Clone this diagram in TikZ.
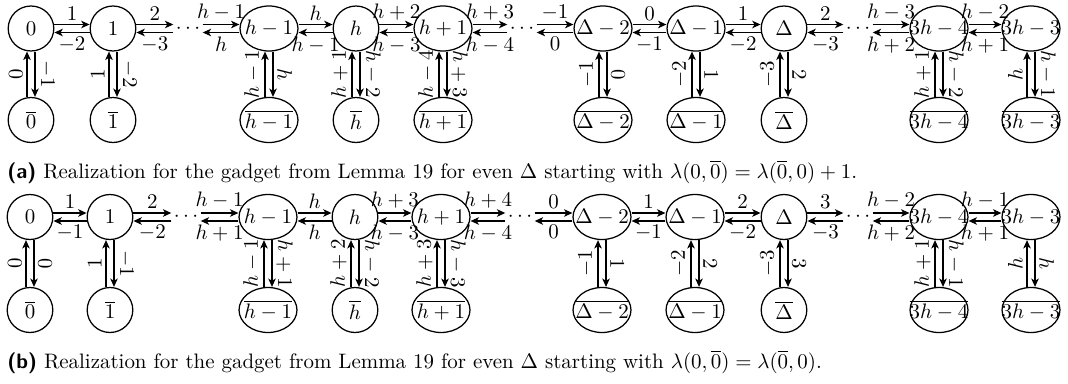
\documentclass[tikz,border=0pt]{standalone}
\usetikzlibrary{shapes.geometric,arrows.meta,calc}
\newcommand\ndtxt[1]{\makebox[0pt]{$#1$}}
\tikzset{
  gnode/.style={ellipse, draw, semithick, inner sep=0pt, minimum width=21.8pt, minimum height=21.5pt},
  wnode/.style={gnode, minimum width=27.7pt},
  dotsnode/.style={inner sep=1pt},
  arr/.style={semithick, -{Stealth[length=4pt,width=3.6pt,inset=1.1pt]}},
  lab/.style={inner sep=1.8pt},
  capt/.style={anchor=base west, inner sep=0pt},
}
\newcommand\hpair[4]{%
  \draw[arr] ($(#1.east)+(0,-4)$) -- node[above,lab]{$#3$} ($(#2.west)+(0,-4)$);
  \draw[arr] ($(#2.west)+(0,4)$) -- node[below,lab]{$#4$} ($(#1.east)+(0,4)$);}
\newcommand\vpair[4]{%
  \draw[arr] ($(#2.north)+(-4,0)$) -- node[sloped,above,lab]{$#3$} ($(#1.south)+(-4,0)$);
  \draw[arr] ($(#1.south)+(4,0)$) -- node[sloped,above,lab]{$#4$} ($(#2.north)+(4,0)$);}
\begin{document}
\begin{tikzpicture}[x=0.478pt,y=-0.478pt]
\useasboundingbox (0,0) rectangle (1068,383);
% ---------- (a) ----------
\node[gnode] (a0) at (31,28.5) {\ndtxt{0}};
\node[gnode] (a1) at (113,28.5) {\ndtxt{1}};
\node[dotsnode] (ad1) at (188,28.5) {$\cdots$};
\node[wnode] (a2) at (269,28.5) {\ndtxt{h-1}};
\node[gnode] (a3) at (356,28.5) {\ndtxt{h}};
\node[wnode] (a4) at (443,28.5) {\ndtxt{h+1}};
\node[dotsnode] (ad2) at (522,28.5) {$\cdots$};
\node[wnode] (a5) at (603,28.5) {\ndtxt{\Delta-2}};
\node[wnode] (a6) at (696,28.5) {\ndtxt{\Delta-1}};
\node[gnode] (a7) at (784,28.5) {\ndtxt{\Delta}};
\node[dotsnode] (ad3) at (858,28.5) {$\cdots$};
\node[wnode] (a8) at (939,28.5) {\ndtxt{3h-4}};
\node[wnode] (a9) at (1031,28.5) {\ndtxt{3h-3}};
\node[gnode] (b0) at (31,120) {\ndtxt{\overline{0}}};
\node[gnode] (b1) at (113,120) {\ndtxt{\overline{1}}};
\node[wnode] (b2) at (269,120) {\ndtxt{\overline{h-1}}};
\node[gnode] (b3) at (356,120) {\ndtxt{\overline{h}}};
\node[wnode] (b4) at (443,120) {\ndtxt{\overline{h+1}}};
\node[wnode] (b5) at (603,120) {\ndtxt{\overline{\Delta-2}}};
\node[wnode] (b6) at (696,120) {\ndtxt{\overline{\Delta-1}}};
\node[gnode] (b7) at (784,120) {\ndtxt{\overline{\Delta}}};
\node[wnode] (b8) at (939,120) {\ndtxt{\overline{3h-4}}};
\node[wnode] (b9) at (1031,120) {\ndtxt{\overline{3h-3}}};
\hpair{a0}{a1}{1}{-2}
\hpair{a1}{ad1}{2}{-3}
\hpair{ad1}{a2}{h-1}{h}
\hpair{a2}{a3}{h}{h-1}
\hpair{a3}{a4}{h+2}{h-3}
\hpair{a4}{ad2}{h+3}{h-4}
\hpair{ad2}{a5}{-1}{0}
\hpair{a5}{a6}{0}{-1}
\hpair{a6}{a7}{1}{-2}
\hpair{a7}{ad3}{2}{-3}
\hpair{ad3}{a8}{h-3}{h+2}
\hpair{a8}{a9}{h-2}{h+1}
\vpair{a0}{b0}{0}{-1}
\vpair{a1}{b1}{1}{-2}
\vpair{a2}{b2}{h-1}{h}
\vpair{a3}{b3}{h+1}{h-2}
\vpair{a4}{b4}{h-4}{h+3}
\vpair{a5}{b5}{-1}{0}
\vpair{a6}{b6}{-2}{1}
\vpair{a7}{b7}{-3}{2}
\vpair{a8}{b8}{h+1}{h-2}
\vpair{a9}{b9}{h}{h-1}
\node[capt] (capa) at (7,178) {\textsf{\bfseries (a)} Realization for the gadget from Lemma 19 for even $\Delta$ starting with $\lambda(0,\overline{0})=\lambda(\overline{0},0)+1$.};
% ---------- (b) ----------
\node[gnode] (c0) at (30,217) {\ndtxt{0}};
\node[gnode] (c1) at (110,217) {\ndtxt{1}};
\node[dotsnode] (cd1) at (186,217) {$\cdots$};
\node[wnode] (c2) at (268,217) {\ndtxt{h-1}};
\node[gnode] (c3) at (355,217) {\ndtxt{h}};
\node[wnode] (c4) at (441,217) {\ndtxt{h+1}};
\node[dotsnode] (cd2) at (520,217) {$\cdots$};
\node[wnode] (c5) at (602,217) {\ndtxt{\Delta-2}};
\node[wnode] (c6) at (695,217) {\ndtxt{\Delta-1}};
\node[gnode] (c7) at (784,217) {\ndtxt{\Delta}};
\node[dotsnode] (cd3) at (858,217) {$\cdots$};
\node[wnode] (c8) at (939,217) {\ndtxt{3h-4}};
\node[wnode] (c9) at (1031,217) {\ndtxt{3h-3}};
\node[gnode] (e0) at (30,310) {\ndtxt{\overline{0}}};
\node[gnode] (e1) at (110,310) {\ndtxt{\overline{1}}};
\node[wnode] (e2) at (268,310) {\ndtxt{\overline{h-1}}};
\node[gnode] (e3) at (355,310) {\ndtxt{\overline{h}}};
\node[wnode] (e4) at (441,310) {\ndtxt{\overline{h+1}}};
\node[wnode] (e5) at (602,310) {\ndtxt{\overline{\Delta-2}}};
\node[wnode] (e6) at (695,310) {\ndtxt{\overline{\Delta-1}}};
\node[gnode] (e7) at (784,310) {\ndtxt{\overline{\Delta}}};
\node[wnode] (e8) at (939,310) {\ndtxt{\overline{3h-4}}};
\node[wnode] (e9) at (1031,310) {\ndtxt{\overline{3h-3}}};
\hpair{c0}{c1}{1}{-1}
\hpair{c1}{cd1}{2}{-2}
\hpair{cd1}{c2}{h-1}{h+1}
\hpair{c2}{c3}{h}{h}
\hpair{c3}{c4}{h+3}{h-3}
\hpair{c4}{cd2}{h+4}{h-4}
\hpair{cd2}{c5}{0}{0}
\hpair{c5}{c6}{1}{-1}
\hpair{c6}{c7}{2}{-2}
\hpair{c7}{cd3}{3}{-3}
\hpair{cd3}{c8}{h-2}{h+2}
\hpair{c8}{c9}{h-1}{h+1}
\vpair{c0}{e0}{0}{0}
\vpair{c1}{e1}{1}{-1}
\vpair{c2}{e2}{h-1}{h+1}
\vpair{c3}{e3}{h+2}{h-2}
\vpair{c4}{e4}{h+3}{h-3}
\vpair{c5}{e5}{-1}{1}
\vpair{c6}{e6}{-2}{2}
\vpair{c7}{e7}{-3}{3}
\vpair{c8}{e8}{h+1}{h-1}
\vpair{c9}{e9}{h}{h}
\node[capt] (capb) at (7,368) {\textsf{\bfseries (b)} Realization for the gadget from Lemma 19 for even $\Delta$ starting with $\lambda(0,\overline{0})=\lambda(\overline{0},0)$.};
\end{tikzpicture}
\end{document}
